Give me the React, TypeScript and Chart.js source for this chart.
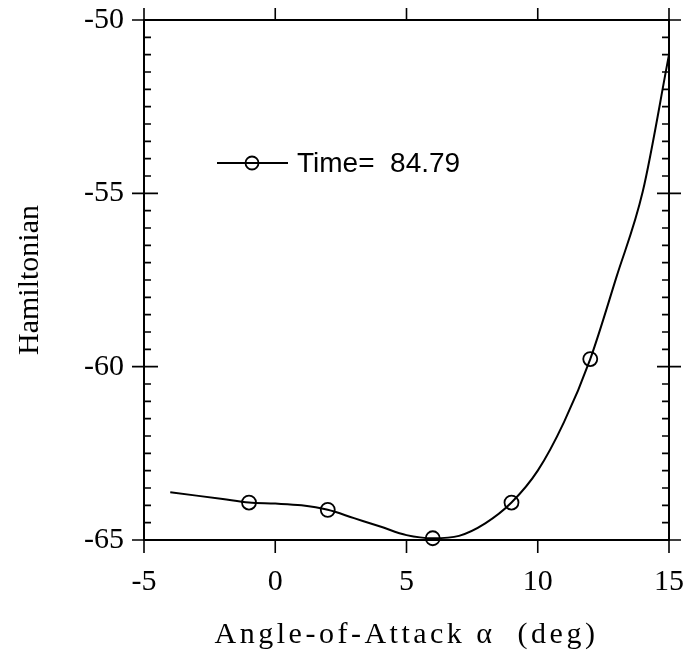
import React, { useEffect, useRef } from 'react';
import { Chart, registerables } from 'chart.js';

Chart.register(...registerables);

// ---- data ----
const curveX = [-4, -3, -2, -1, 0, 1, 2, 3, 4, 5, 6, 7, 8, 9, 10, 11, 12, 13, 14, 15];
const curveY = [-63.62, -63.72, -63.82, -63.92, -63.95, -64.0, -64.13, -64.37, -64.61, -64.86, -64.95, -64.88, -64.52, -63.92, -63.0, -61.6, -59.78, -57.41, -54.95, -51.0];
const markerX = [-1, 2, 6, 9, 12];
const markerY = [-63.92, -64.13, -64.95, -63.92, -59.78];
const xTicks = [-5, 0, 5, 10, 15];
const yTicks = [-65, -60, -55, -50];
const yMinorStep = 0.5;
const legendLabel = 'Time=  84.79';
const xTitle = 'Angle-of-Attack \u03b1  (deg)';
const yTitle = 'Hamiltonian';

const SERIF = "'Liberation Serif', 'Times New Roman', serif";
const SANS = "'Liberation Sans', Arial, sans-serif";

const framePlugin = {
  id: 'framePlugin',
  afterDraw(chart: any) {
    const { ctx, chartArea: a, scales } = chart;
    const xs = scales.x;
    const ys = scales.y;
    ctx.save();
    ctx.strokeStyle = '#000';
    ctx.lineWidth = 2;
    ctx.strokeRect(a.left, a.top, a.right - a.left, a.bottom - a.top);
    ctx.lineWidth = 1.6;
    ctx.beginPath();
    for (const v of xTicks) {
      const px = xs.getPixelForValue(v);
      ctx.moveTo(px, a.bottom);
      ctx.lineTo(px, a.bottom + 13);
      ctx.moveTo(px, a.top);
      ctx.lineTo(px, a.top - 12);
    }
    const yMin = yTicks[0];
    const yMax = yTicks[yTicks.length - 1];
    const n = Math.round((yMax - yMin) / yMinorStep);
    for (let i = 0; i <= n; i++) {
      const v = yMin + i * yMinorStep;
      const py = ys.getPixelForValue(v);
      const major = yTicks.some((t) => Math.abs(t - v) < 1e-6);
      if (major) {
        ctx.moveTo(a.left - 12, py);
        ctx.lineTo(a.left + 14, py);
        ctx.moveTo(a.right - 12, py);
        ctx.lineTo(a.right + 12, py);
      } else {
        ctx.moveTo(a.left, py);
        ctx.lineTo(a.left + 7, py);
        ctx.moveTo(a.right, py);
        ctx.lineTo(a.right - 7, py);
      }
    }
    ctx.stroke();

    // legend inside plot
    const lx = a.left + 73;
    const ly = a.top + 143;
    ctx.lineWidth = 2;
    ctx.beginPath();
    ctx.moveTo(lx, ly);
    ctx.lineTo(lx + 71, ly);
    ctx.stroke();
    ctx.lineWidth = 1.8;
    ctx.beginPath();
    ctx.arc(lx + 35, ly, 6.5, 0, Math.PI * 2);
    ctx.stroke();
    ctx.fillStyle = '#000';
    ctx.font = `28px ${SANS}`;
    ctx.textBaseline = 'middle';
    ctx.textAlign = 'left';
    ctx.fillText(legendLabel, lx + 80, ly + 1);

    // x-axis title (letter-spaced like the reference)
    ctx.font = `30px ${SERIF}`;
    (ctx as any).letterSpacing = '3.5px';
    ctx.textAlign = 'center';
    ctx.textBaseline = 'middle';
    ctx.fillText(xTitle, (a.left + a.right) / 2, a.bottom + 95);
    (ctx as any).letterSpacing = '0px';
    ctx.restore();
  },
};

export default function App() {
  const ref = useRef<HTMLCanvasElement | null>(null);

  useEffect(() => {
    if (!ref.current) return;
    const chart = new Chart(ref.current, {
      type: 'scatter',
      data: {
        datasets: [
          {
            data: curveX.map((x, i) => ({ x, y: curveY[i] })),
            showLine: true,
            borderColor: '#000',
            borderWidth: 2,
            pointRadius: 0,
            cubicInterpolationMode: 'monotone',
            clip: false as any,
          },
          {
            data: markerX.map((x, i) => ({ x, y: markerY[i] })),
            showLine: false,
            pointRadius: 7,
            pointBorderWidth: 1.8,
            pointBorderColor: '#000',
            pointBackgroundColor: 'rgba(0,0,0,0)',
            clip: false as any,
          },
        ],
      },
      options: {
        animation: false,
        responsive: false,
        layout: { padding: { top: 20, right: 17, left: 0, bottom: 0 } },
        plugins: { legend: { display: false }, tooltip: { enabled: false } },
        scales: {
          x: {
            type: 'linear',
            position: 'bottom',
            min: xTicks[0],
            max: xTicks[xTicks.length - 1],
            afterBuildTicks: (s: any) => {
              s.ticks = xTicks.map((v) => ({ value: v }));
            },
            afterFit: (s: any) => {
              s.height = 118;
              s.paddingLeft = 0;
              s.paddingRight = 0;
            },
            grid: { display: false, drawTicks: false },
            border: { display: false },
            ticks: {
              color: '#000',
              font: { family: SERIF, size: 30 },
              padding: 24,
              maxRotation: 0,
              autoSkip: false,
            },
            title: { display: false },
          },
          y: {
            type: 'linear',
            position: 'left',
            min: yTicks[0],
            max: yTicks[yTicks.length - 1],
            afterBuildTicks: (s: any) => {
              s.ticks = yTicks.map((v) => ({ value: v }));
            },
            afterFit: (s: any) => {
              s.width = 144;
              s.paddingTop = 0;
              s.paddingBottom = 0;
            },
            grid: { display: false, drawTicks: false },
            border: { display: false },
            ticks: {
              color: '#000',
              font: { family: SERIF, size: 30 },
              padding: 20,
              autoSkip: false,
            },
            title: {
              display: true,
              text: yTitle,
              color: '#000',
              font: { family: SERIF, size: 30 },
              padding: { top: 12, bottom: 0 },
            },
          },
        },
      },
      plugins: [framePlugin],
    });
    return () => chart.destroy();
  }, []);

  return (
    <div style={{ position: 'absolute', left: 0, top: 0, width: 686, height: 658, background: '#fff' }}>
      <canvas ref={ref} width={686} height={658} style={{ display: 'block' }} />
    </div>
  );
}
